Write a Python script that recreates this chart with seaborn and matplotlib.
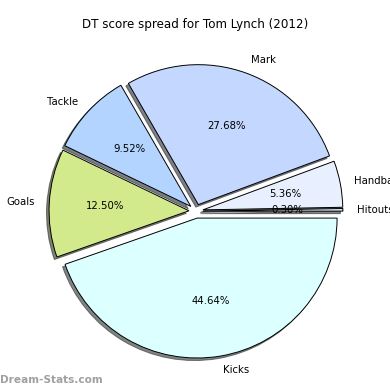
import matplotlib
matplotlib.use("Agg")
import matplotlib.pyplot as plt
import seaborn as sns

# DT points per stat for Tom Lynch (2012)
stats = ['Hitouts', 'Handballs', 'Mark', 'Tackle', 'Goals', 'Kicks']
points = [1, 18, 93, 32, 42, 150]
colors = ['#dde6f5', '#e8efff', '#c4d8ff', '#b3d4ff', '#d2ea8c', '#dcffff']

sns.set_theme(style='white')
plt.rcParams['font.family'] = ['DejaVu Sans']

fig = plt.figure(figsize=(3.9, 3.9), dpi=100)
ax = fig.add_axes([0.054, 0.010, 0.897, 0.897])

wedges, texts, autotexts = ax.pie(
    points, labels=stats, colors=colors, explode=[0.05] * len(points),
    autopct='%1.2f%%', labeldistance=1.1, pctdistance=0.6,
    shadow=dict(ox=-0.013, oy=-0.013, shade=0.8, alpha=0.6),
    wedgeprops=dict(edgecolor='black', linewidth=0.7),
    textprops=dict(fontsize=7.3, color='black'))
ax.set_xlim(-1.25, 1.25)
ax.set_ylim(-1.25, 1.25)
ax.set_aspect('equal')

fig.text(0.5, 0.937, 'DT score spread for Tom Lynch (2012)',
         ha='center', va='center', fontsize=8.6, color='black')
fig.text(0.0, 0.025, 'Dream-Stats.com', ha='left', va='center',
         fontsize=7.6, color='#a0a0a0', fontweight='bold')

fig.savefig('out.png', dpi=100)
